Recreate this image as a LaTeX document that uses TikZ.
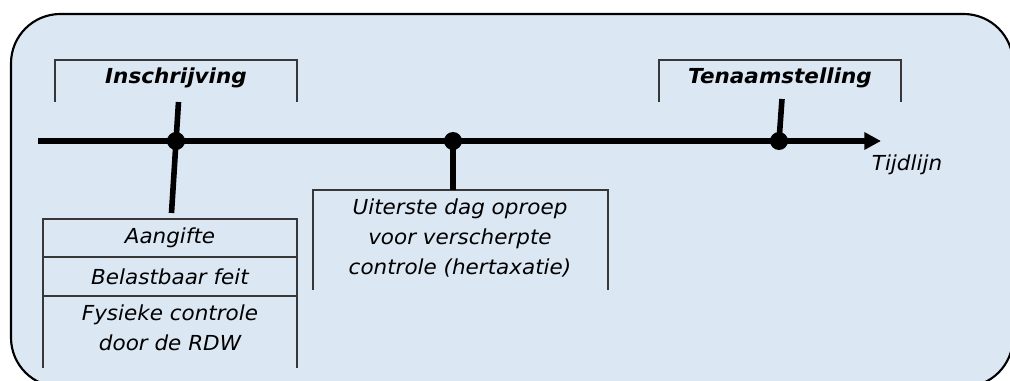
\documentclass[tikz,border=0pt]{standalone}
\usepackage{fontspec}
\setmainfont{DejaVu Sans}[FakeStretch=1.04]
\usepackage{tikz}
\usetikzlibrary{calc}
\usetikzlibrary{positioning}
\usetikzlibrary{arrows.meta}
\definecolor{lichtblauw}{RGB}{220,231,244}
\definecolor{kader}{RGB}{55,55,55}

\begin{document}
\begin{tikzpicture}[>=latex,x=0.75pt,y=-0.75pt,
    punt/.style={circle,fill=black,inner sep=0pt,minimum size=13.5pt},
    stam/.style={line width=4.2pt},
    hokje/.style={draw=kader,line width=0.9pt},
    tekst/.style={inner sep=0pt,align=center,font=\fontsize{15.5}{22.5}\selectfont\itshape},
    kop/.style={tekst,font=\fontsize{15.5}{22.5}\selectfont\bfseries\itshape}]
    \pgfmathsetmacro{\lijn}{141}
    \useasboundingbox (0,0) rectangle (1010,381);
    \clip (0,0) rectangle (1010,381);
    \draw[line width=1.6pt,fill=lichtblauw,rounded corners=37pt] (11,14) rectangle (1013,387);
    \path (38,\lijn) coordinate (begin) (881,\lijn) coordinate (eind)
    (178.5,102) coordinate (A) (171.5,213) coordinate (B)
    (782,99) coordinate (C);
    \draw[hokje] (55,102) -- (55,60) -- (297,60) -- (297,102);
    \draw[hokje] (659,102) -- (659,60) -- (901,60) -- (901,102);
    \node[kop] (inschr) at (176,78) {Inschrijving};
    \node[kop] (tenaam) at (780,78) {Tenaamstelling};
    \draw[hokje] (43,368) -- (43,219) -- (297,219) -- (297,368) (43,257) -- (297,257) (43,296) -- (297,296);
    \draw[hokje] (313,290) -- (313,190) -- (608,190) -- (608,290);
    \node[tekst] (aangifte) at (170,238) {Aangifte};
    \node[tekst] (feit) at (170,277) {Belastbaar feit};
    \node[tekst] (fysiek) at (170,328) {Fysieke controle\\door de RDW};
    \node[tekst] (oproep) at (460,238) {Uiterste dag oproep\\voor verscherpte\\controle (hertaxatie)};
    \node[tekst] (tijd) at (907,165) {Tijdlijn};
    \draw[stam,-{Triangle[length=12.5pt,width=12.5pt]}] (begin) -- (eind);
    \node[punt] (p1) at (176,\lijn) {};
    \node[punt] (p2) at (453,\lijn) {};
    \node[punt] (p3) at (779,\lijn) {};
    \draw[stam] (A) -- (B);
    \draw[stam] (p2.center) -- (p2 |- 0,190);
    \draw[stam] (C) -- (p3.center);
\end{tikzpicture}
\end{document}
